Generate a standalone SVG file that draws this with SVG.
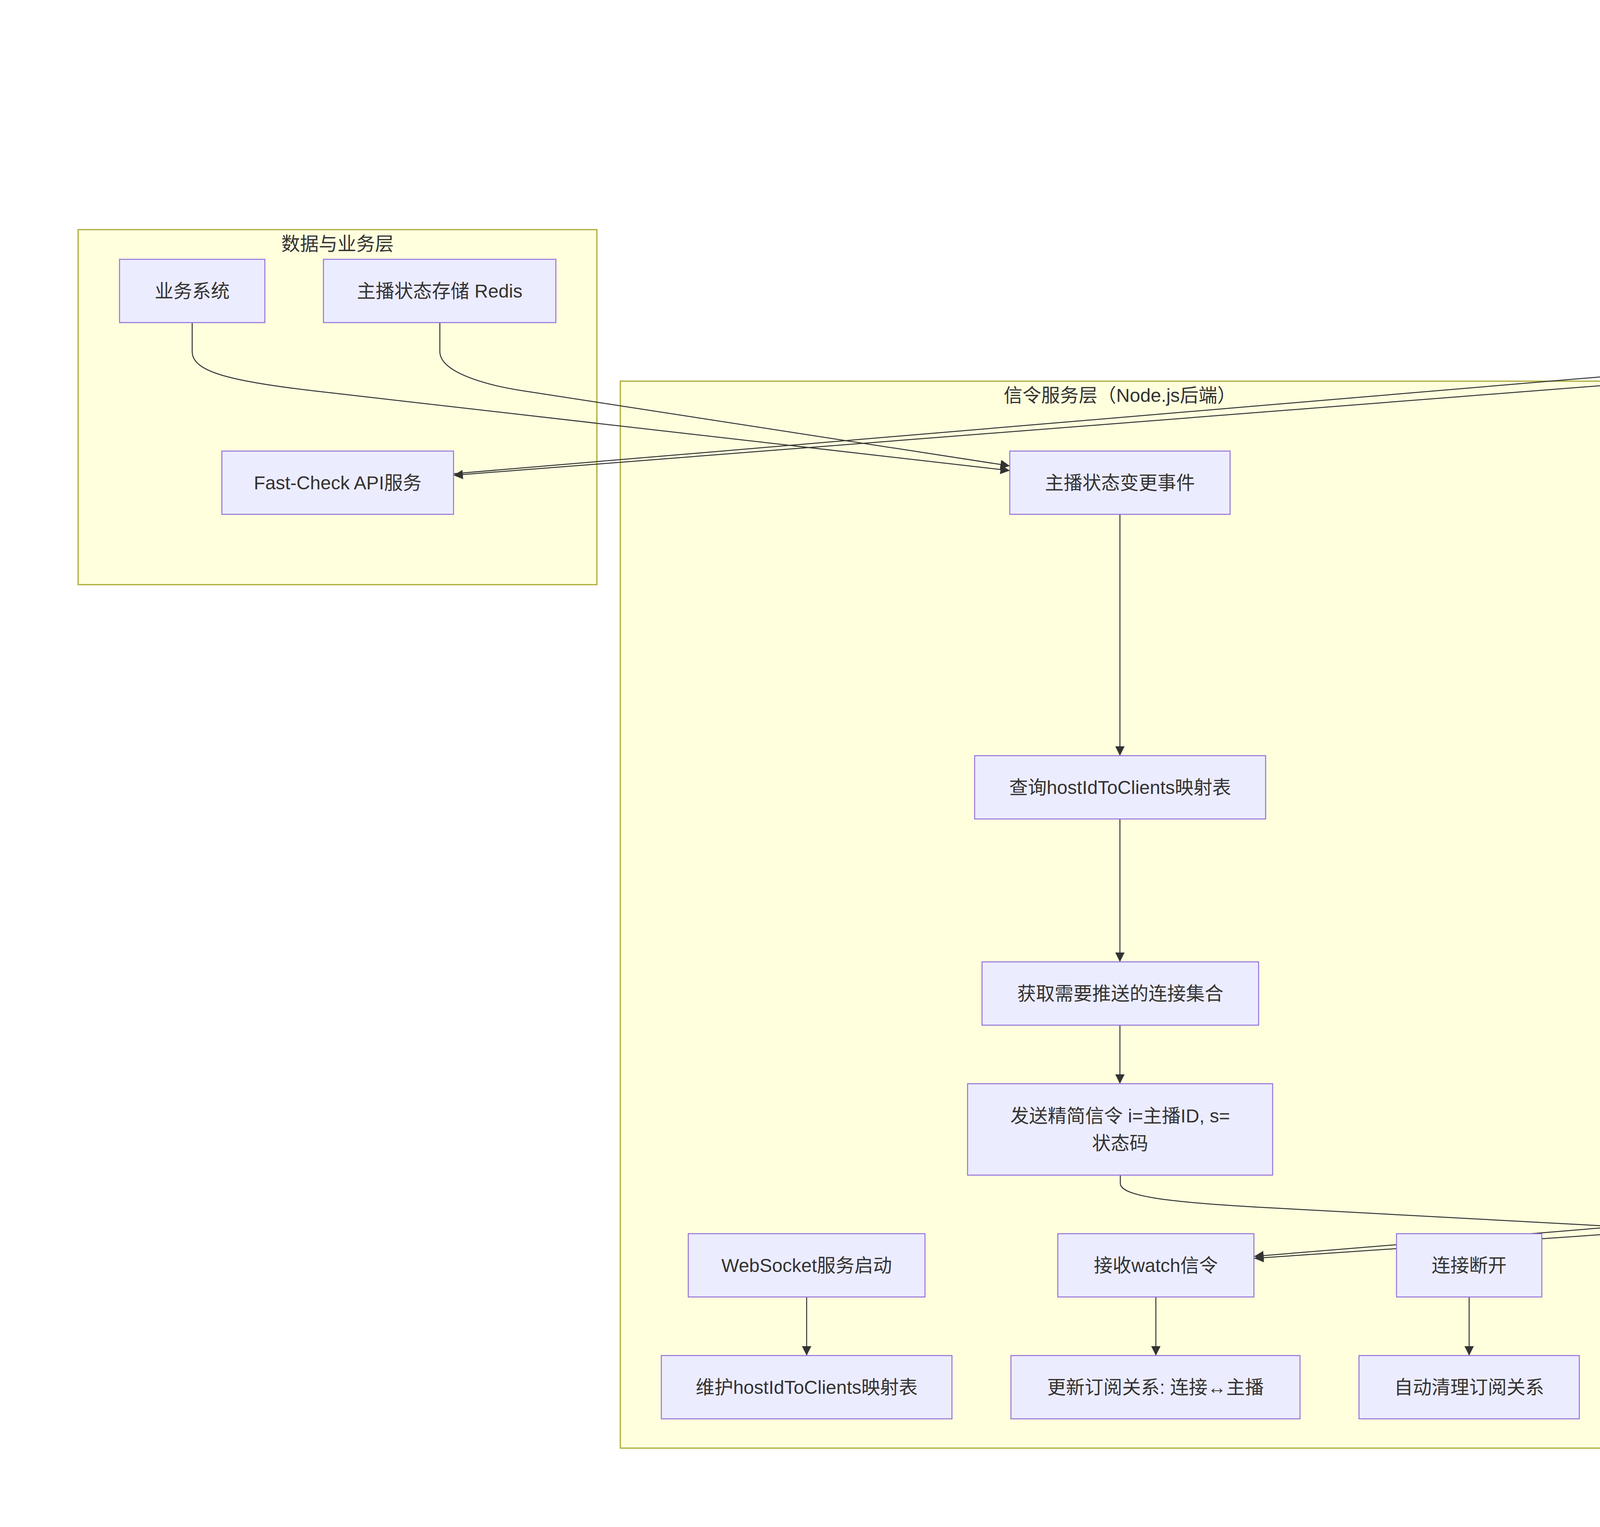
<svg xmlns="http://www.w3.org/2000/svg" width="7132" height="3910" viewBox="0 0 7132 3910">
<style>
.cluster rect{fill:#ffffde;stroke:#aaaa33;stroke-width:3}
.node rect,.node polygon{fill:#ECECFF;stroke:#9370DB;stroke-width:2.5}
text{font-family:"Liberation Sans","Noto Sans CJK SC",sans-serif;font-size:48px;fill:#333333;text-anchor:middle;dominant-baseline:central}
.edges path{fill:none;stroke:#333333;stroke-width:2.5;marker-end:url(#arrow)}
.lbl rect{fill:rgba(232,232,232,0.8)}
</style>
<defs>
<marker id="arrow" viewBox="0 0 10 10" refX="10" refY="5" markerUnits="userSpaceOnUse" markerWidth="24" markerHeight="24" orient="auto">
<path d="M0,0 L10,5 L0,10 z" fill="#333333"/>
</marker>
</defs>
<rect x="0" y="0" width="7132" height="3910" fill="#ffffff"/>

<g id="cluster-data" class="cluster"><rect x="200" y="588" width="1328" height="909"/><text x="864" y="624">数据与业务层</text></g>
<g id="cluster-signal" class="cluster"><rect x="1588" y="976" width="2559" height="2732"/><text x="2867" y="1012">信令服务层（Node.js后端）</text></g>
<g id="cluster-user" class="cluster"><rect x="4209" y="201" width="2720" height="3507"/><text x="5569" y="237">用户端（前端）</text></g>

<g id="connectors" class="edges">
<path d="M492,826 V900 C492,950 580,975 805,1001 L2585,1205"/>
<path d="M1126,826 V900 C1126,950 1230,984 1341,1001 L2585,1193"/>
<path d="M4609,438 V663"/>
<path d="M5386,438 V663"/>
<path d="M5386,825 V1155"/>
<path d="M5385,1317 V1720"/>
<path d="M5385,2312 V2463"/>
<path d="M5385,2625 V2775"/>
<path d="M4905,777 L5560,850 C5900,895 6025,930 6025,1010 V1051"/>
<path d="M6025,1421 L6021.5,1935"/>
<path d="M6152,1297 C6402,1411 6591,1480 6591,1600 V1935"/>
<path d="M2868,3009 V3030 C2868,3062 2980,3078 3238,3092 L5714,3226"/>
<path d="M5021,3009 C4920,3075 4700,3095 4468,3114 L3211,3217"/>
<path d="M5384,3009 V3032 C5384,3075 5150,3092 4736,3118 L3211,3222"/>
<path d="M5763,3009 C5900,3080 5995,3100 5995,3135 V3159"/>
<path d="M2867,1317 V1935"/>
<path d="M2867,2097 V2463"/>
<path d="M2867,2625 V2775"/>
<path d="M2065,3321 V3471"/>
<path d="M2959,3321 V3471"/>
<path d="M3761,3321 V3471"/>
<path d="M5995,3321 V3471"/>
<path d="M4608,825 V900 C4608,935 4560,943 4450,960 L1161,1217"/>
<path d="M1161,1213 L4300,948 C4370,938 4400,930 4415,912 C4440,880 4472,851 4503,827"/>
</g>

<g id="edge-labels" class="lbl">
<g id="label-yes"><rect x="5997" y="1572" width="48" height="72"/><text x="6021" y="1608">是</text></g>
<g id="label-no"><rect x="6567" y="1572" width="48" height="72"/><text x="6591" y="1608">否</text></g>
</g>

<g id="n-biz" class="node"><rect x="306" y="664" width="372" height="162"/><text x="492" y="745">业务系统</text></g>
<g id="n-redis" class="node"><rect x="828" y="664" width="595" height="162"/><text x="1125.5" y="745">主播状态存储 Redis</text></g>
<g id="n-fcs" class="node"><rect x="568" y="1155" width="593" height="162"/><text x="864.5" y="1236">Fast-Check API服务</text></g>

<g id="n-evt" class="node"><rect x="2585" y="1155" width="564" height="162"/><text x="2867" y="1236">主播状态变更事件</text></g>
<g id="n-query" class="node"><rect x="2495" y="1935" width="745" height="162"/><text x="2867.5" y="2016">查询hostIdToClients映射表</text></g>
<g id="n-get" class="node"><rect x="2514" y="2463" width="708" height="162"/><text x="2868" y="2544">获取需要推送的连接集合</text></g>
<g id="n-send" class="node"><rect x="2477" y="2775" width="781" height="234"/><text x="2867.5" y="2857">发送精简信令 i=主播ID, s=</text><text x="2867.5" y="2927">状态码</text></g>
<g id="n-wsstart" class="node"><rect x="1762" y="3159" width="606" height="162"/><text x="2065" y="3240">WebSocket服务启动</text></g>
<g id="n-recvw" class="node"><rect x="2708" y="3159" width="502" height="162"/><text x="2959" y="3240">接收watch信令</text></g>
<g id="n-disc" class="node"><rect x="3575" y="3159" width="372" height="162"/><text x="3761" y="3240">连接断开</text></g>
<g id="n-maint" class="node"><rect x="1693" y="3471" width="744" height="162"/><text x="2065" y="3552">维护hostIdToClients映射表</text></g>
<g id="n-upd" class="node"><rect x="2588" y="3471" width="740" height="162"/><text x="2958" y="3552">更新订阅关系: 连接↔主播</text></g>
<g id="n-clean" class="node"><rect x="3479" y="3471" width="564" height="162"/><text x="3761" y="3552">自动清理订阅关系</text></g>

<g id="n-click" class="node"><rect x="4375" y="276" width="468" height="162"/><text x="4609" y="357">点击拨打按钮</text></g>
<g id="n-open" class="node"><rect x="5129" y="276" width="514" height="162"/><text x="5386" y="357">用户打开主播墙</text></g>
<g id="n-fc" class="node"><rect x="4312" y="663" width="593" height="162"/><text x="4608.5" y="744">发起Fast-Check API</text></g>
<g id="n-http" class="node"><rect x="5055" y="663" width="661" height="162"/><text x="5385.5" y="744">HTTP API获取初始状态</text></g>
<g id="n-ws" class="node"><rect x="5082" y="1155" width="606" height="162"/><text x="5385" y="1236">建立WebSocket连接</text></g>
<g id="d-same" class="node"><polygon points="6025,1051 6210,1236 6025,1421 5840,1236"/><text x="6025" y="1236">状态一致?</text></g>
<g id="d-swiper" class="node"><polygon points="5385.5,1720 5681.5,2016 5385.5,2312 5089.5,2016"/><text x="5385.5" y="2016">监听Swiper滑动事件</text></g>
<g id="n-ok" class="node"><rect x="5836" y="1935" width="371" height="162"/><text x="6021.5" y="2016">正常通话</text></g>
<g id="n-warn" class="node"><rect x="6357" y="1935" width="468" height="162"/><text x="6591" y="2016">提示状态已变</text></g>
<g id="n-calc" class="node"><rect x="5105" y="2463" width="559" height="162"/><text x="5384.5" y="2544">计算视口内主播ID</text></g>
<g id="n-sendw" class="node"><rect x="4996" y="2775" width="777" height="234"/><text x="5384.5" y="2857">发送watch信令 op='watch',</text><text x="5384.5" y="2927">ids=[...]</text></g>
<g id="n-recvp" class="node"><rect x="5714" y="3159" width="563" height="162"/><text x="5995.5" y="3240">接收精准状态信令</text></g>
<g id="n-ui" class="node"><rect x="5787" y="3471" width="417" height="162"/><text x="5995.5" y="3552">UI实时更新</text></g>
</svg>
